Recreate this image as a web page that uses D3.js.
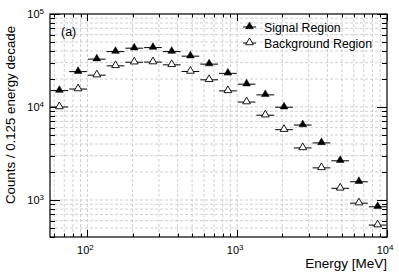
<!DOCTYPE html>
<html>
<head>
<meta charset="utf-8">
<script src="https://cdn.jsdelivr.net/npm/d3@7"></script>
<style>
  body { margin: 0; background: #fff; }
  svg { font-family: "Liberation Sans", Arial, sans-serif; }
</style>
</head>
<body>
<div id="chart"></div>
<script>
// Data: 0.125-decade energy bins, log10 edges from 1.75 to 4.0
const binEdgesLog = [1.75, 1.875, 2.0, 2.125, 2.25, 2.375, 2.5, 2.625, 2.75, 2.875,
                     3.0, 3.125, 3.25, 3.375, 3.5, 3.625, 3.75, 3.875, 4.0];
const signalCounts = [15000, 24000, 32700, 39400, 42900, 43500, 39400, 35200, 28900,
                      23000, 17600, 13500, 9940, 6400, 4110, 2640, 1570, 845];
const backgroundCounts = [10000, 15600, 22000, 27700, 30300, 30400, 28400, 24100, 19600,
                          14900, 11300, 8160, 5700, 3630, 2215, 1335, 925, 537];
const xTickDecades = [2, 3, 4];
const yTickDecades = [3, 4, 5];

const W = 399, H = 273;
const margin = {top: 14, right: 12, bottom: 36, left: 50};
const width = W - margin.left - margin.right, height = H - margin.top - margin.bottom;

const svg = d3.select("#chart").append("svg").attr("width", W).attr("height", H);
const g = svg.append("g").attr("transform", `translate(${margin.left},${margin.top})`);

const x = d3.scaleLog().domain([Math.pow(10, 1.75), 1e4]).range([0, width]);
const y = d3.scaleLog().domain([400, 1e5]).range([height, 0]);

// minor tick values (1..9 x decade) inside the domain
function logTicks(scale) {
    const [a, b] = scale.domain();
    const out = [];
    for (let e = Math.floor(Math.log10(a)); e <= Math.ceil(Math.log10(b)); e++) {
        for (let m = 1; m < 10; m++) {
            const v = m * Math.pow(10, e);
            if (v >= a * 0.999 && v <= b * 1.001) out.push({v, major: m === 1});
        }
    }
    return out;
}
const xt = logTicks(x), yt = logTicks(y);

// Grid
g.selectAll(".gx").data(xt.filter(d => x(d.v) > 0.5 && x(d.v) < width - 0.5)).enter().append("line")
    .attr("x1", d => x(d.v)).attr("x2", d => x(d.v)).attr("y1", 0).attr("y2", height)
    .attr("stroke", "#c4c4c4").attr("stroke-dasharray", "3,2").attr("stroke-width", 0.8);
g.selectAll(".gy").data(yt.filter(d => y(d.v) > 0.5 && y(d.v) < height - 0.5)).enter().append("line")
    .attr("y1", d => y(d.v)).attr("y2", d => y(d.v)).attr("x1", 0).attr("x2", width)
    .attr("stroke", "#c4c4c4").attr("stroke-dasharray", "3,2").attr("stroke-width", 0.8);

// Ticks (inward on all four sides)
const tk = g.append("g").attr("stroke", "#000").attr("stroke-width", 1);
xt.forEach(d => {
    const px = Math.round(x(d.v)) + 0.5, len = d.major ? 7 : 3.5;
    tk.append("line").attr("x1", px).attr("x2", px).attr("y1", height).attr("y2", height - len);
    tk.append("line").attr("x1", px).attr("x2", px).attr("y1", 0).attr("y2", len);
});
yt.forEach(d => {
    const py = Math.round(y(d.v)) + 0.5, len = d.major ? 10 : 5;
    tk.append("line").attr("y1", py).attr("y2", py).attr("x1", 0).attr("x2", len);
    tk.append("line").attr("y1", py).attr("y2", py).attr("x1", width).attr("x2", width - len);
});

// Frame
g.append("rect").attr("x", 0).attr("y", 0).attr("width", width).attr("height", height)
    .attr("fill", "none").attr("stroke", "#000").attr("stroke-width", 1.2);

// Tick labels
function powLabel(sel, e) {
    sel.append("tspan").text("10");
    sel.append("tspan").attr("dy", "-0.45em").attr("font-size", "8px").text(e);
}
xTickDecades.forEach(e => {
    const t = g.append("text").attr("x", x(Math.pow(10, e)) - 2).attr("y", height + 17)
        .attr("text-anchor", "middle").attr("font-size", "11px").attr("fill", "#000");
    powLabel(t, e);
});
yTickDecades.forEach(e => {
    const t = g.append("text").attr("x", -6).attr("y", y(Math.pow(10, e)) + 4)
        .attr("text-anchor", "end").attr("font-size", "11px").attr("fill", "#000");
    powLabel(t, e);
});

// Axis titles
svg.append("text").attr("x", margin.left + width).attr("y", 268).attr("text-anchor", "end")
    .attr("font-size", "13.5px").text("Energy [MeV]");
svg.append("text").attr("transform", "translate(15,115) rotate(-90)")
    .attr("text-anchor", "middle").attr("font-size", "13.3px").text("Counts / 0.125 energy decade");

g.append("text").attr("x", 11).attr("y", 22).attr("font-size", "12.5px").text("(a)");

// Data points with horizontal bin-width bars
const tri = d3.symbol().type(d3.symbolTriangle).size(26);
function drawSeries(counts, filled) {
    const pts = counts.map((c, i) => ({
        lo: Math.pow(10, binEdgesLog[i]), hi: Math.pow(10, binEdgesLog[i + 1]),
        c: Math.pow(10, (binEdgesLog[i] + binEdgesLog[i + 1]) / 2), v: c
    }));
    const s = g.append("g");
    s.selectAll("line").data(pts).enter().append("line")
        .attr("x1", d => x(d.lo) + 0.5).attr("x2", d => x(d.hi) - 0.5)
        .attr("y1", d => y(d.v)).attr("y2", d => y(d.v))
        .attr("stroke", "#000").attr("stroke-width", 1);
    s.selectAll("path").data(pts).enter().append("path")
        .attr("d", tri).attr("transform", d => `translate(${x(d.c)},${y(d.v) - 0.5})`)
        .attr("fill", filled ? "#000" : "#fff").attr("stroke", "#000").attr("stroke-width", filled ? 0.5 : 0.9);
}
drawSeries(backgroundCounts, false);
drawSeries(signalCounts, true);

// Legend
const legend = [{label: "Signal Region", filled: true}, {label: "Background Region", filled: false}];
legend.forEach((d, i) => {
    const ly = 13 + i * 16;
    g.append("line").attr("x1", 193).attr("x2", 206).attr("y1", ly).attr("y2", ly)
        .attr("stroke", "#000").attr("stroke-width", 1);
    g.append("path").attr("d", tri).attr("transform", `translate(199.5,${ly - 0.5})`)
        .attr("fill", d.filled ? "#000" : "#fff").attr("stroke", "#000").attr("stroke-width", d.filled ? 0.5 : 0.9);
    g.append("text").attr("x", 214).attr("y", ly + 4.5).attr("font-size", "12.3px").text(d.label);
});
</script>
</body>
</html>
